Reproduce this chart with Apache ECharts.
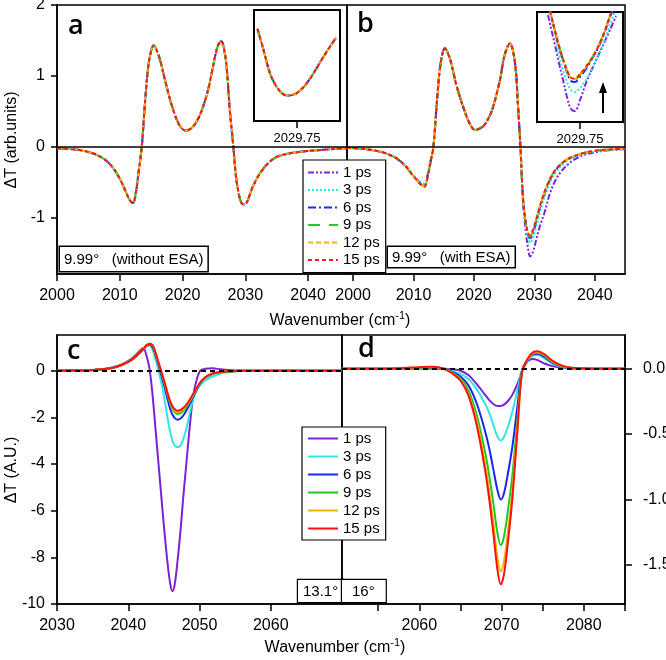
<!DOCTYPE html>
<html>
<head>
<meta charset="utf-8">
<script src="https://cdn.jsdelivr.net/npm/echarts@6.0.0/dist/echarts.min.js"></script>
<style>html,body{margin:0;padding:0;background:#fff;}#chart{width:666px;height:660px;}</style>
</head>
<body>
<div id="chart"></div>
<script>
// ---------- data ----------
const psLabels = ['1 ps', '3 ps', '6 ps', '9 ps', '12 ps', '15 ps'];

// panel a (all delays coincide)
const aX = [2000, 2002, 2004, 2006, 2007.5, 2008.5, 2009.5, 2010.3, 2011, 2011.6, 2012.1, 2012.6, 2013, 2013.5, 2014, 2014.5, 2015, 2015.4, 2015.9, 2016.5, 2017, 2017.5, 2018, 2018.6, 2019.2, 2019.8, 2020.5, 2021.2, 2021.8, 2022.5, 2023.2, 2024, 2024.6, 2025.2, 2025.7, 2026.2, 2026.7, 2027.1, 2027.5, 2028.1, 2028.5, 2029, 2029.4, 2029.8, 2030.3, 2031, 2032, 2033, 2034, 2035, 2036.5, 2038.5, 2041, 2044, 2046.2];
const aY = [-0.02, -0.03, -0.05, -0.1, -0.17, -0.25, -0.37, -0.5, -0.64, -0.75, -0.79, -0.62, -0.35, 0.0, 0.6, 1.1, 1.36, 1.43, 1.36, 1.2, 1.02, 0.84, 0.67, 0.5, 0.36, 0.27, 0.23, 0.25, 0.3, 0.4, 0.55, 0.78, 1.02, 1.28, 1.44, 1.49, 1.34, 1.05, 0.55, 0.0, -0.4, -0.68, -0.79, -0.81, -0.77, -0.6, -0.42, -0.29, -0.2, -0.14, -0.1, -0.07, -0.05, -0.03, -0.02];

// panel b
const bX = [1999, 2002, 2004.5, 2006, 2007.2, 2008.2, 2009, 2009.8, 2010.5, 2011.1, 2011.8, 2012.45, 2012.9, 2013.3, 2013.9, 2014.5, 2015.2, 2016.0, 2016.6, 2017.1, 2018.2, 2019.3, 2020.2, 2021.5, 2022.4, 2023.2, 2024.3, 2025.1, 2025.95, 2026.8, 2027.3, 2027.7, 2028.15, 2028.6, 2029.0, 2029.3, 2029.8, 2030.3, 2030.9, 2031.7, 2032.6, 2033.5, 2034.4, 2035.5, 2036.6, 2038, 2040, 2042.5, 2045];
const bY1 = [-0.01, -0.03, -0.066, -0.11, -0.16, -0.23, -0.3, -0.39, -0.45, -0.5, -0.52, -0.35, -0.17, 0.0, 0.66, 1.18, 1.39, 1.25, 1.05, 0.87, 0.57, 0.33, 0.24, 0.29, 0.4, 0.57, 0.94, 1.30, 1.46, 1.18, 0.57, 0.0, -0.8, -1.2, -1.45, -1.545, -1.47, -1.31, -1.12, -0.92, -0.65, -0.47, -0.35, -0.25, -0.18, -0.12, -0.075, -0.045, -0.03];
const bY3 = [-0.01, -0.03, -0.066, -0.11, -0.16, -0.23, -0.3, -0.39, -0.45, -0.5, -0.52, -0.35, -0.17, 0.0, 0.66, 1.18, 1.39, 1.25, 1.05, 0.87, 0.57, 0.33, 0.24, 0.29, 0.4, 0.57, 0.94, 1.30, 1.46, 1.18, 0.57, 0.0, -0.77, -1.12, -1.3, -1.35, -1.27, -1.13, -0.92, -0.7, -0.5, -0.36, -0.27, -0.19, -0.145, -0.1, -0.06, -0.04, -0.028];
const bY6 = [-0.01, -0.03, -0.066, -0.11, -0.16, -0.23, -0.3, -0.39, -0.46, -0.52, -0.55, -0.37, -0.18, 0.0, 0.66, 1.18, 1.39, 1.25, 1.05, 0.87, 0.57, 0.33, 0.24, 0.29, 0.4, 0.57, 0.94, 1.30, 1.46, 1.18, 0.57, 0.0, -0.76, -1.09, -1.25, -1.285, -1.2, -1.05, -0.86, -0.65, -0.46, -0.33, -0.245, -0.172, -0.132, -0.09, -0.056, -0.036, -0.025];
const bY9 = [-0.01, -0.03, -0.066, -0.11, -0.16, -0.23, -0.3, -0.39, -0.46, -0.52, -0.56, -0.37, -0.18, 0.0, 0.66, 1.18, 1.39, 1.25, 1.05, 0.87, 0.57, 0.33, 0.24, 0.29, 0.4, 0.57, 0.94, 1.30, 1.46, 1.18, 0.57, 0.0, -0.75, -1.08, -1.235, -1.265, -1.18, -1.035, -0.85, -0.64, -0.45, -0.32, -0.24, -0.17, -0.13, -0.09, -0.055, -0.035, -0.025];
const bY12 = [-0.01, -0.03, -0.066, -0.11, -0.16, -0.23, -0.3, -0.39, -0.46, -0.52, -0.56, -0.37, -0.18, 0.0, 0.66, 1.18, 1.39, 1.25, 1.05, 0.87, 0.57, 0.33, 0.24, 0.29, 0.4, 0.57, 0.94, 1.30, 1.46, 1.18, 0.57, 0.0, -0.75, -1.07, -1.225, -1.255, -1.17, -1.025, -0.84, -0.63, -0.45, -0.32, -0.24, -0.17, -0.13, -0.09, -0.055, -0.035, -0.025];
const bY15 = [-0.01, -0.03, -0.066, -0.11, -0.16, -0.23, -0.3, -0.39, -0.46, -0.52, -0.56, -0.37, -0.18, 0.0, 0.66, 1.18, 1.39, 1.25, 1.05, 0.87, 0.57, 0.33, 0.24, 0.29, 0.4, 0.57, 0.94, 1.30, 1.46, 1.18, 0.57, 0.0, -0.75, -1.07, -1.22, -1.25, -1.16, -1.02, -0.84, -0.63, -0.45, -0.32, -0.24, -0.17, -0.13, -0.09, -0.055, -0.035, -0.025];

// inset of panel a (around 2029.75)
const insetAX = [2028.96, 2029.08, 2029.21, 2029.34, 2029.48, 2029.58, 2029.74, 2029.91, 2030.08, 2030.24, 2030.41, 2030.53];
const insetAY = [-0.757, -0.776, -0.797, -0.809, -0.816, -0.817, -0.815, -0.808, -0.797, -0.785, -0.773, -0.765];

// inset of panel b (around 2029.75)
const insetBX = [2029.11, 2029.17, 2029.25, 2029.33, 2029.41, 2029.49, 2029.57, 2029.65, 2029.75, 2029.87, 2029.99, 2030.11, 2030.23, 2030.35, 2030.47];
const insetB1 = [-1.065, -1.13, -1.215, -1.305, -1.39, -1.475, -1.535, -1.545, -1.49, -1.405, -1.335, -1.27, -1.205, -1.14, -1.07];
const insetB3 = [-1.015, -1.065, -1.16, -1.26, -1.34, -1.40, -1.44, -1.45, -1.43, -1.39, -1.335, -1.27, -1.2, -1.115, -1.03];
const insetB6 = [-1.01, -1.065, -1.145, -1.225, -1.29, -1.35, -1.395, -1.4, -1.375, -1.335, -1.285, -1.23, -1.16, -1.075, -1.0];
const insetB9 = [-1.01, -1.065, -1.145, -1.22, -1.285, -1.345, -1.385, -1.39, -1.365, -1.325, -1.28, -1.225, -1.155, -1.07, -0.995];
const insetB12 = [-1.01, -1.065, -1.145, -1.22, -1.285, -1.34, -1.38, -1.385, -1.36, -1.325, -1.28, -1.225, -1.155, -1.07, -0.995];
const insetB15 = [-1.01, -1.065, -1.145, -1.22, -1.285, -1.34, -1.38, -1.3825, -1.36, -1.325, -1.28, -1.225, -1.155, -1.07, -0.995];

// panel c
const cX = [2030, 2033, 2035, 2037, 2038.5, 2039.5, 2040.5, 2041.3, 2042.1, 2042.6, 2043.0, 2043.4, 2043.8, 2044.25, 2044.7, 2045.05, 2045.5, 2045.9, 2046.2, 2046.5, 2046.9, 2047.35, 2047.7, 2048.15, 2048.6, 2049.1, 2049.6, 2050.1, 2050.8, 2051.8, 2053, 2054.5, 2056, 2060, 2070];
const cY1 = [0, 0.01, 0.03, 0.09, 0.2, 0.33, 0.52, 0.75, 0.96, 0.6, 0.05, -1.0, -2.4, -4.0, -5.6, -6.8, -8.2, -9.15, -9.45, -9.2, -8.2, -6.8, -5.5, -4.0, -2.5, -1.1, -0.4, 0.0, 0.08, 0.1, 0.06, 0.02, 0.005, 0, 0];
const cY3 = [0, 0.01, 0.03, 0.08, 0.18, 0.3, 0.47, 0.68, 0.9, 1.05, 1.07, 0.9, 0.5, 0.0, -0.6, -1.15, -2.0, -2.65, -3.0, -3.2, -3.28, -3.2, -2.95, -2.5, -1.85, -1.25, -0.85, -0.62, -0.42, -0.25, -0.12, -0.05, -0.015, 0, 0];
const cY6 = [0, 0.01, 0.03, 0.08, 0.18, 0.3, 0.47, 0.68, 0.92, 1.08, 1.12, 1.02, 0.7, 0.25, -0.25, -0.65, -1.2, -1.65, -1.88, -2.02, -2.1, -2.05, -1.93, -1.72, -1.45, -1.13, -0.83, -0.55, -0.3, -0.14, -0.06, -0.02, -0.005, 0, 0];
const cY9 = [0, 0.01, 0.03, 0.08, 0.18, 0.3, 0.47, 0.68, 0.93, 1.1, 1.15, 1.08, 0.78, 0.33, -0.12, -0.5, -1.0, -1.42, -1.63, -1.77, -1.86, -1.82, -1.73, -1.56, -1.35, -1.07, -0.8, -0.54, -0.3, -0.14, -0.055, -0.02, -0.005, 0, 0];
const cY12 = [0, 0.01, 0.03, 0.08, 0.18, 0.3, 0.47, 0.68, 0.93, 1.1, 1.16, 1.1, 0.8, 0.35, -0.1, -0.47, -0.97, -1.37, -1.57, -1.7, -1.78, -1.74, -1.66, -1.5, -1.3, -1.03, -0.77, -0.52, -0.29, -0.13, -0.05, -0.02, -0.005, 0, 0];
const cY15 = [0, 0.01, 0.03, 0.08, 0.18, 0.3, 0.47, 0.68, 0.93, 1.1, 1.16, 1.1, 0.8, 0.35, -0.1, -0.45, -0.95, -1.33, -1.52, -1.64, -1.72, -1.68, -1.6, -1.46, -1.26, -1.0, -0.75, -0.5, -0.28, -0.12, -0.05, -0.02, -0.005, 0, 0];

// panel d
const dX = [2050.6, 2055, 2058, 2060, 2061.5, 2063, 2064, 2065, 2066, 2067, 2068, 2068.5, 2069, 2069.5, 2069.9, 2070.3, 2070.8, 2071.3, 2071.9, 2072.5, 2073.2, 2073.8, 2074.4, 2075.2, 2076.2, 2077.5, 2079, 2081, 2085];
const dY1 = [0, 0, 0, 0, 0, 0, -0.005, -0.015, -0.05, -0.12, -0.2, -0.24, -0.27, -0.285, -0.285, -0.275, -0.245, -0.2, -0.12, -0.02, 0.06, 0.075, 0.065, 0.04, 0.02, 0.005, 0, 0, 0];
const dY3 = [0, 0, 0, 0.002, 0.003, 0, -0.02, -0.04, -0.08, -0.16, -0.27, -0.34, -0.43, -0.52, -0.55, -0.52, -0.44, -0.33, -0.17, -0.005, 0.07, 0.1, 0.105, 0.08, 0.04, 0.012, 0.003, 0, 0];
const dY6 = [0, 0, 0.002, 0.005, 0.006, 0, -0.025, -0.06, -0.13, -0.27, -0.48, -0.61, -0.77, -0.93, -1.0, -0.95, -0.79, -0.6, -0.3, -0.01, 0.07, 0.11, 0.115, 0.09, 0.045, 0.014, 0.003, 0, 0];
const dY9 = [0, 0, 0.003, 0.008, 0.01, 0, -0.03, -0.075, -0.17, -0.36, -0.64, -0.82, -1.03, -1.26, -1.35, -1.28, -1.07, -0.82, -0.41, -0.02, 0.07, 0.115, 0.122, 0.1, 0.05, 0.016, 0.004, 0, 0];
const dY12 = [0, 0, 0.004, 0.01, 0.012, 0, -0.034, -0.085, -0.2, -0.41, -0.73, -0.94, -1.18, -1.45, -1.55, -1.47, -1.23, -0.94, -0.47, -0.02, 0.075, 0.12, 0.128, 0.105, 0.055, 0.018, 0.004, 0, 0];
const dY15 = [0, 0, 0.005, 0.012, 0.015, 0, -0.036, -0.09, -0.21, -0.44, -0.78, -1.0, -1.26, -1.54, -1.65, -1.57, -1.31, -1.0, -0.5, -0.02, 0.08, 0.125, 0.133, 0.11, 0.06, 0.02, 0.005, 0, 0];

// tick values
const topXTicks = [2000, 2010, 2020, 2030, 2040];
const topYTicks = [-1, 0, 1, 2];
const cXTicks = [2030, 2040, 2050, 2060];
const cYTicks = [-10, -8, -6, -4, -2, 0];
const dXTicks = [2055, 2060, 2065, 2070, 2075, 2080, 2085];
const dXLabels = [2060, 2070, 2080];
const dYTicks = [-1.5, -1.0, -0.5, 0.0];
const insetTick = [2029.75];

// ---------- styles ----------
const FONT = "'Liberation Sans', Arial, sans-serif";
const topColors = ['#7F22E0', '#22E6F2', '#1530F5', '#22CC22', '#F2B600', '#FF1A1A'];
const topDash = [[6, 2, 2, 2, 2, 2], [2, 2], [8, 3, 2, 3], [12, 9], [5, 3], [4, 3]];
const botColors = ['#7B22D8', '#33E6E6', '#1428F0', '#1EC81E', '#F0B400', '#FF1010'];

const zip = (xs, ys) => xs.map((x, i) => [x, ys[i]]);

const bYs = [bY1, bY3, bY6, bY9, bY12, bY15];
const insetBYs = [insetB1, insetB3, insetB6, insetB9, insetB12, insetB15];
const cYs = [cY1, cY3, cY6, cY9, cY12, cY15];
const dYs = [dY1, dY3, dY6, dY9, dY12, dY15];

const series = [];
function zeroLine(ax, dashed) {
  return {
    type: 'line', name: 'zero' + ax, xAxisIndex: ax, yAxisIndex: ax, data: [], z: 1, silent: true,
    markLine: {
      silent: true, symbol: 'none', animation: false, label: {show: false},
      lineStyle: {color: '#000', width: dashed ? 2 : 1.5, type: dashed ? [5, 4] : 'solid'},
      data: [{yAxis: 0}]
    }
  };
}
series.push(zeroLine(0, false), zeroLine(1, false), zeroLine(4, true), zeroLine(5, true));

function topS(i, ax, data) {
  return {
    type: 'line', name: psLabels[i], xAxisIndex: ax, yAxisIndex: ax, data: data,
    symbol: 'none', smooth: 0.35, clip: true, silent: true, z: 2,
    lineStyle: {color: topColors[i], width: 2, type: topDash[i]}
  };
}
function botS(i, ax, data) {
  return {
    type: 'line', name: psLabels[i], xAxisIndex: ax, yAxisIndex: ax, data: data,
    symbol: 'none', smooth: 0.35, clip: true, silent: true, z: 2,
    lineStyle: {color: botColors[i], width: 2, type: 'solid'}
  };
}
psLabels.forEach((n, i) => {
  series.push(topS(i, 0, zip(aX, aY)));
  series.push(topS(i, 1, zip(bX, bYs[i])));
  series.push(topS(i, 2, zip(insetAX, insetAY)));
  series.push(topS(i, 3, zip(insetBX, insetBYs[i])));
  series.push(botS(i, 4, zip(cX, cYs[i])));
  series.push(botS(i, 5, zip(dX, dYs[i])));
});

const plain = v => String(v);
const axLine = {show: true, onZero: false, lineStyle: {color: '#000', width: 1.5}};
const noLine = {show: false, onZero: false};
const lbl = (vals, extra) => Object.assign({show: true, customValues: vals, color: '#000', fontSize: 16, fontFamily: FONT, formatter: plain}, extra || {});
const tick = (vals, len) => ({show: true, customValues: vals, length: len || 6, lineStyle: {color: '#000', width: 1.5}});
const hiddenAxis = {axisLine: noLine, axisTick: {show: false}, axisLabel: {show: false}, splitLine: {show: false}};

const gridBorder = {show: true, borderColor: '#000', borderWidth: 1.5, backgroundColor: 'transparent', containLabel: false, outerBoundsMode: 'none'};

const option = {
  animation: false,
  backgroundColor: '#fff',
  grid: [
    Object.assign({left: 57, top: 5, width: 290, height: 269}, gridBorder),
    Object.assign({left: 347, top: 5, width: 278, height: 269}, gridBorder),
    {left: 254, top: 10, width: 86, height: 111, show: true, borderColor: '#000', borderWidth: 2, backgroundColor: '#fff', containLabel: false, outerBoundsMode: 'none'},
    {left: 537, top: 12, width: 86, height: 110, show: true, borderColor: '#000', borderWidth: 2, backgroundColor: '#fff', containLabel: false, outerBoundsMode: 'none'},
    Object.assign({left: 57, top: 335, width: 285, height: 269}, gridBorder),
    Object.assign({left: 342, top: 335, width: 283, height: 269}, gridBorder)
  ],
  xAxis: [
    {type: 'value', gridIndex: 0, min: 2000, max: 2046.2, axisLine: axLine, axisTick: tick(topXTicks, 7), axisLabel: lbl(topXTicks, {margin: 14}), splitLine: {show: false}},
    {type: 'value', gridIndex: 1, min: 1999, max: 2045, axisLine: axLine, axisTick: tick(topXTicks, 7), axisLabel: lbl(topXTicks, {margin: 14}), splitLine: {show: false}},
    {type: 'value', gridIndex: 2, min: 2028.89, max: 2030.61, axisLine: noLine, axisTick: tick(insetTick, 7), axisLabel: lbl(insetTick, {fontSize: 13, margin: 11, formatter: v => v.toFixed(2)}), splitLine: {show: false}},
    {type: 'value', gridIndex: 3, min: 2028.89, max: 2030.61, axisLine: noLine, axisTick: tick(insetTick, 7), axisLabel: lbl(insetTick, {fontSize: 13, margin: 11, formatter: v => v.toFixed(2)}), splitLine: {show: false}},
    {type: 'value', gridIndex: 4, min: 2030, max: 2070, axisLine: axLine, axisTick: tick(cXTicks, 7), axisLabel: lbl(cXTicks, {margin: 14}), splitLine: {show: false}},
    {type: 'value', gridIndex: 5, min: 2050.6, max: 2085, axisLine: axLine, axisTick: tick(dXTicks, 7), axisLabel: lbl(dXLabels, {margin: 14}), splitLine: {show: false}}
  ],
  yAxis: [
    {type: 'value', gridIndex: 0, min: -1.79, max: 2, axisLine: axLine, axisTick: tick(topYTicks, 6), axisLabel: lbl(topYTicks, {margin: 12}), splitLine: {show: false}},
    Object.assign({type: 'value', gridIndex: 1, min: -1.79, max: 2}, hiddenAxis),
    Object.assign({type: 'value', gridIndex: 2, min: -0.84, max: -0.74}, hiddenAxis),
    Object.assign({type: 'value', gridIndex: 3, min: -1.6, max: -1.05}, hiddenAxis),
    {type: 'value', gridIndex: 4, min: -10, max: 1.53, axisLine: axLine, axisTick: tick(cYTicks, 6), axisLabel: lbl(cYTicks, {margin: 12}), splitLine: {show: false}},
    {type: 'value', gridIndex: 5, position: 'right', min: -1.8, max: 0.258, axisLine: axLine, axisTick: tick(dYTicks, 7), axisLabel: lbl(dYTicks, {margin: 18, formatter: v => v.toFixed(1)}), splitLine: {show: false}}
  ],
  legend: [
    {
      orient: 'vertical', left: 303, top: 160, padding: [5, 6, 5, 4], itemGap: 2.5, itemWidth: 30, itemHeight: 14,
      backgroundColor: '#fff', borderColor: '#000', borderWidth: 1.2, borderRadius: 0, z: 20,
      selectedMode: false,
      textStyle: {fontSize: 15, fontFamily: FONT, color: '#000'},
      data: psLabels.map((n, i) => ({name: n, itemStyle: {opacity: 0}, lineStyle: {color: topColors[i], width: 2, type: topDash[i], opacity: 1}}))
    },
    {
      orient: 'vertical', left: 302, top: 427, padding: [4, 6, 4, 5], itemGap: 3, itemWidth: 30, itemHeight: 14,
      backgroundColor: '#fff', borderColor: '#000', borderWidth: 1.2, borderRadius: 0, z: 20,
      selectedMode: false,
      textStyle: {fontSize: 15, fontFamily: FONT, color: '#000'},
      data: psLabels.map((n, i) => ({name: n, itemStyle: {opacity: 0}, lineStyle: {color: botColors[i], width: 2, type: 'solid', opacity: 1}}))
    }
  ],
  graphic: [
    {type: 'text', x: 68, y: 26, z: 50, style: {text: 'a', font: "600 27px 'Open Sans'", fill: '#000', verticalAlign: 'middle'}},
    {type: 'text', x: 357, y: 24, z: 50, style: {text: 'b', font: "600 27px 'Open Sans'", fill: '#000', verticalAlign: 'middle'}},
    {type: 'text', x: 67, y: 351, z: 50, style: {text: 'c', font: "600 27px 'Open Sans'", fill: '#000', verticalAlign: 'middle'}},
    {type: 'text', x: 358, y: 349, z: 50, style: {text: 'd', font: "600 27px 'Open Sans'", fill: '#000', verticalAlign: 'middle'}},
    {type: 'text', x: 60, y: 247, z: 50, style: {text: '9.99°   (without ESA)', font: "15px " + FONT, fill: '#000', backgroundColor: '#fff', borderColor: '#000', borderWidth: 1.5, padding: [5, 4, 4, 4]}},
    {type: 'text', x: 388, y: 247, z: 50, style: {text: '9.99°   (with ESA)', font: "15px " + FONT, fill: '#000', backgroundColor: '#fff', borderColor: '#000', borderWidth: 1.5, padding: [3, 4, 2, 4]}},
    {type: 'text', x: 298, y: 580, z: 50, style: {text: '13.1°', font: "15px " + FONT, fill: '#000', backgroundColor: '#fff', borderColor: '#000', borderWidth: 1.2, padding: [4, 5, 3, 5]}},
    {type: 'text', x: 342, y: 580, z: 50, style: {text: '16°', font: "15px " + FONT, fill: '#000', backgroundColor: '#fff', borderColor: '#000', borderWidth: 1.2, padding: [4, 11, 3, 10]}},
    {type: 'text', x: 12, y: 140, rotation: Math.PI / 2, z: 50, style: {text: 'ΔT (arb.units)', font: "16px " + FONT, fill: '#000', align: 'center', verticalAlign: 'middle'}},
    {type: 'text', x: 12, y: 470, rotation: Math.PI / 2, z: 50, style: {text: 'ΔT (A.U.)', font: "16px " + FONT, fill: '#000', align: 'center', verticalAlign: 'middle'}},
    {type: 'text', x: 340, y: 321, z: 50, style: {text: 'Wavenumber (cm{s|-1}{n|)}', font: "16px " + FONT, fill: '#000', align: 'center', verticalAlign: 'middle', rich: {s: {fontSize: 11, fontFamily: FONT, verticalAlign: 'top', padding: [0, 0, 10, 0]}, n: {fontSize: 16, fontFamily: FONT}}}},
    {type: 'text', x: 335, y: 648, z: 50, style: {text: 'Wavenumber (cm{s|-1}{n|)}', font: "16px " + FONT, fill: '#000', align: 'center', verticalAlign: 'middle', rich: {s: {fontSize: 11, fontFamily: FONT, verticalAlign: 'top', padding: [0, 0, 10, 0]}, n: {fontSize: 16, fontFamily: FONT}}}},
    {type: 'line', z: 50, shape: {x1: 603, y1: 113, x2: 603, y2: 90}, style: {stroke: '#000', lineWidth: 2}},
    {type: 'polygon', z: 50, shape: {points: [[599, 93], [607, 93], [603, 82]]}, style: {fill: '#000'}}
  ],
  series: series
};

const chart = echarts.init(document.getElementById('chart'), null, {renderer: 'canvas', width: 666, height: 660});
chart.setOption(option);
</script>
</body>
</html>
